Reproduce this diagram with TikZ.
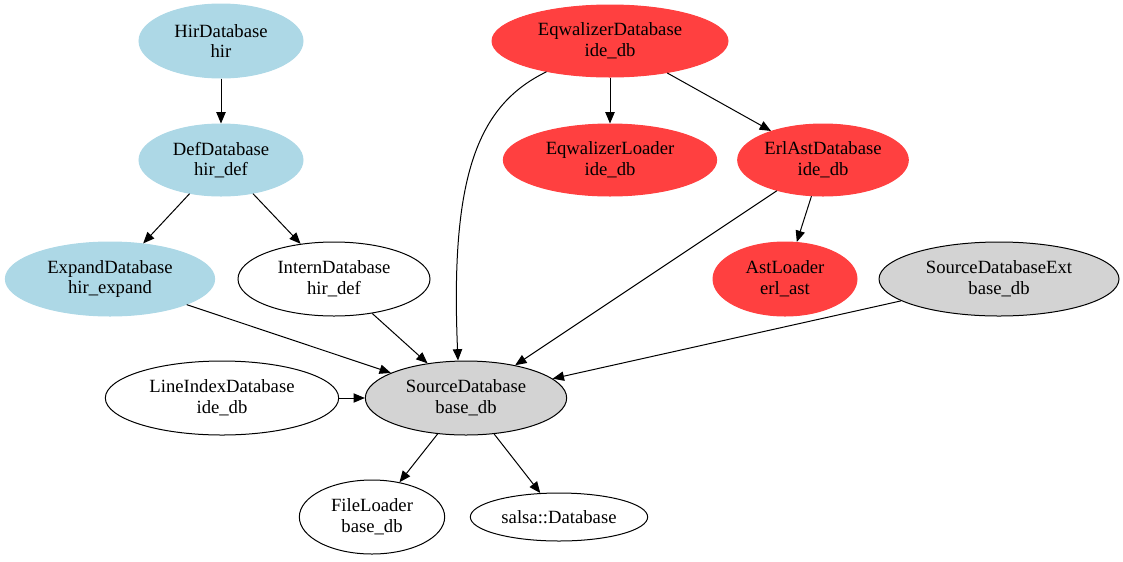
\documentclass[tikz,border=0pt]{standalone}
\usepackage{fontspec}
\setmainfont{Liberation Serif}
\usetikzlibrary{shapes.geometric,arrows.meta}
\definecolor{gvblue}{RGB}{173,216,230}
\definecolor{gvred}{RGB}{255,64,64}
\definecolor{gvgray}{RGB}{211,211,211}
\tikzset{
  nd/.style={ellipse, inner sep=0pt, align=center, font=\fontsize{14}{15.5}\selectfont, line width=0.75pt},
  bluend/.style={nd, fill=gvblue, draw=gvblue},
  rednd/.style={nd, fill=gvred, draw=gvred},
  grayend/.style={nd, fill=gvgray, draw=black},
  whitend/.style={nd, fill=white, draw=black},
  edge/.style={draw=black, line width=0.75pt, -{Triangle[length=8.5pt,width=7pt]}}
}
\begin{document}
\begin{tikzpicture}[x=0.75pt,y=-0.75pt]
\useasboundingbox (0,0) rectangle (1123,561);
\node[bluend, minimum width=123pt, minimum height=55.5pt] (hir) at (221,41) {HirDatabase\\hir};
\node[bluend, minimum width=123pt, minimum height=54pt] (def) at (221,160) {DefDatabase\\hir\_def};
\node[bluend, minimum width=157pt, minimum height=55.5pt] (exp) at (110,279) {ExpandDatabase\\hir\_expand};
\node[whitend, minimum width=144pt, minimum height=55.5pt] (int) at (334,279) {InternDatabase\\hir\_def};
\node[rednd, minimum width=177pt, minimum height=54pt] (eqw) at (610,41) {EqwalizerDatabase\\ide\_db};
\node[rednd, minimum width=160pt, minimum height=54pt] (eql) at (610,160) {EqwalizerLoader\\ide\_db};
\node[rednd, minimum width=128pt, minimum height=54pt] (erl) at (823,160) {ErlAstDatabase\\ide\_db};
\node[rednd, minimum width=108pt, minimum height=55.5pt] (ast) at (785,279) {AstLoader\\erl\_ast};
\node[grayend, minimum width=180pt, minimum height=55.5pt] (sde) at (999,279) {SourceDatabaseExt\\base\_db};
\node[whitend, minimum width=175pt, minimum height=55.5pt] (lid) at (222,398) {LineIndexDatabase\\ide\_db};
\node[grayend, minimum width=151pt, minimum height=55.5pt] (src) at (466,398) {SourceDatabase\\base\_db};
\node[whitend, minimum width=109pt, minimum height=55.5pt] (fl) at (372,517) {FileLoader\\base\_db};
\node[whitend, minimum width=133pt, minimum height=36pt] (sal) at (559,517) {salsa::Database};

\draw[edge] (hir) -- (def);
\draw[edge] (def) -- (exp);
\draw[edge] (def) -- (int);
\draw[edge] (exp) -- (src);
\draw[edge] (int) -- (src);
\draw[edge] (eqw) .. controls (478,105) and (450,175) .. ([xshift=-6pt]src.north);
\draw[edge] (eqw) -- (eql);
\draw[edge] (eqw) -- (erl);
\draw[edge] (erl) -- (src);
\draw[edge] (erl) -- (ast);
\draw[edge] (sde) -- (src);
\draw[edge] (lid) -- (src);
\draw[edge] (src) -- (fl);
\draw[edge] (src) -- (sal);
\end{tikzpicture}
\end{document}
